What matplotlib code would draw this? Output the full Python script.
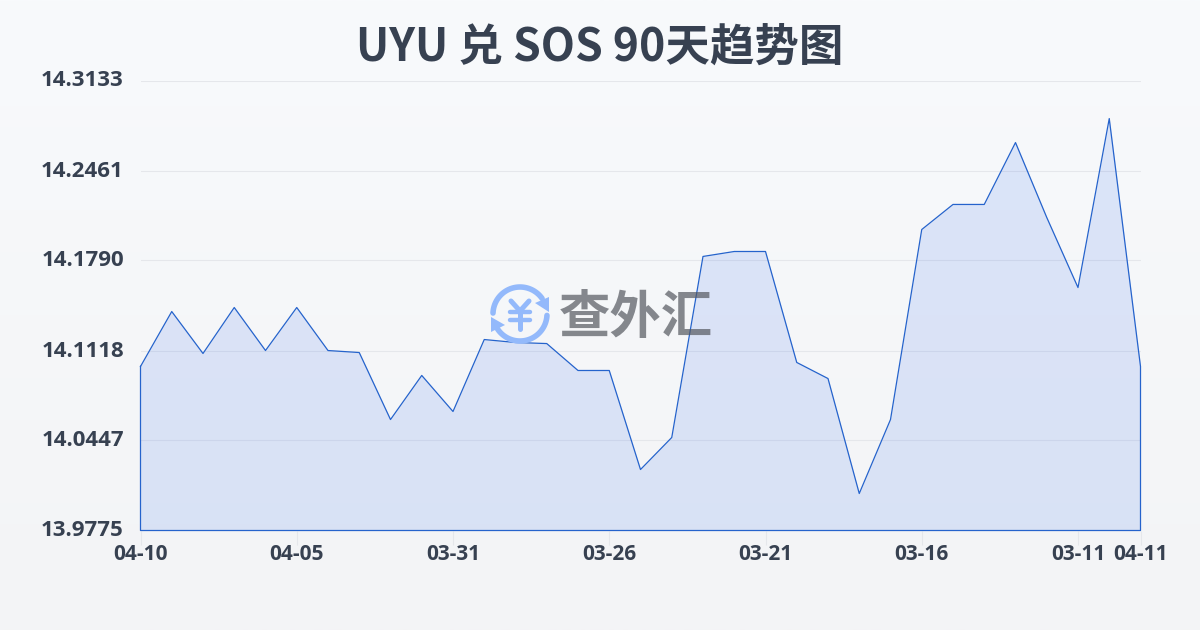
import matplotlib.pyplot as plt
from matplotlib.patches import Polygon
from matplotlib.transforms import ScaledTranslation
import numpy as np

title = "UYU 兑 SOS 90天趋势图"
values = [14.0999, 14.1409, 14.1096, 14.1439, 14.1118, 14.1439, 14.1118, 14.1103,
          14.0603, 14.0932, 14.0663, 14.1200, 14.1178, 14.1170, 14.0969, 14.0969,
          14.0230, 14.0469, 14.1820, 14.1857, 14.1857, 14.1029, 14.0909, 14.0051,
          14.0603, 14.2021, 14.2208, 14.2208, 14.2670, 14.2111, 14.1588, 14.2849,
          14.0999]
y_ticks = [13.9775, 14.0447, 14.1118, 14.1790, 14.2461, 14.3133]
y_labels = ["13.9775", "14.0447", "14.1118", "14.1790", "14.2461", "14.3133"]
x_ticks = [0, 5, 10, 15, 20, 25, 30, 32]
x_labels = ["04-10", "04-05", "03-31", "03-26", "03-21", "03-16", "03-11", "04-11"]

LABEL = "#374151"
LINE = "#2563cc"
ICON = "#93b9fb"

plt.rcParams['font.family'] = ['Noto Sans CJK SC', 'DejaVu Sans']

fig = plt.figure(figsize=(12, 6.3), dpi=100)

# page background, slight vertical gradient
bg = fig.add_axes([0, 0, 1, 1], zorder=0)
grad = np.linspace(0, 1, 256).reshape(-1, 1, 1)
top = np.array([248, 250, 252]) / 255
bottom = np.array([243, 244, 246]) / 255
bg.imshow(top + (bottom - top) * grad, aspect='auto', extent=[0, 1, 0, 1])
bg.axis('off')

ax = fig.add_axes([140.5 / 1200, 99.5 / 630, 1000 / 1200, 450 / 630], zorder=1)
ax.patch.set_alpha(0)
x = np.arange(len(values))
ax.fill_between(x, values, y_ticks[0], color="#2563eb", alpha=0.13, lw=0, zorder=2)
ax.plot(np.r_[x, x[-1], x[0], x[0]], np.r_[values, y_ticks[0], y_ticks[0], values[0]],
        color=LINE, lw=0.9, zorder=3, clip_on=False)
ax.set_xlim(0, 32)
ax.set_ylim(y_ticks[0], y_ticks[-1])
ax.grid(axis='y', color="#e5e7eb", lw=0.8)
ax.set_axisbelow(True)
for s in ax.spines.values():
    s.set_visible(False)

ax.set_xticks(x_ticks)
ax.set_xticklabels(x_labels, fontfamily=['Open Sans', 'DejaVu Sans'], fontweight='bold',
                   fontsize=15, color=LABEL)
ax.set_yticks(y_ticks)
ax.set_yticklabels(y_labels, fontfamily=['Open Sans', 'DejaVu Sans'], fontweight='bold',
                   fontsize=16, color=LABEL)
ax.tick_params(axis='x', length=10, width=0.8, color="#e5e7eb", pad=0)
ax.tick_params(axis='y', length=0, pad=12)

# y labels sit a little above their grid lines
up = ScaledTranslation(0, 2 / 100, fig.dpi_scale_trans)
for lab in ax.get_yticklabels():
    lab.set_transform(lab.get_transform() + up)

# overlay in pixel coordinates for title and logo
ov = fig.add_axes([0, 0, 1, 1], zorder=2)
ov.set_xlim(0, 1200)
ov.set_ylim(630, 0)
ov.axis('off')
ov.text(600, 48, title, ha='center', va='center', fontsize=32, fontweight='bold', color=LABEL)

cx, cy, r = 520, 314, 27
a_top = np.radians(np.linspace(178, 35, 50))
a_bot = np.radians(np.linspace(-3, -150, 50))
ov.plot(cx + r * np.cos(a_top), cy - r * np.sin(a_top), color=ICON, lw=4, solid_capstyle='round')
ov.plot(cx + r * np.cos(a_bot), cy - r * np.sin(a_bot), color=ICON, lw=4, solid_capstyle='round')
ov.add_patch(Polygon([(535, 303), (549, 297), (549, 312)], closed=True, color=ICON, lw=0))
ov.add_patch(Polygon([(491, 317), (505, 325), (491, 332)], closed=True, color=ICON, lw=0))
# yen sign
ov.plot([511, 520, 529], [301, 311, 301], color=ICON, lw=3.6, solid_capstyle='round')
ov.plot([520, 520], [311, 329], color=ICON, lw=3.6, solid_capstyle='round')
ov.plot([510, 530], [312, 312], color=ICON, lw=3.2, solid_capstyle='round')
ov.plot([510, 530], [320, 320], color=ICON, lw=3.2, solid_capstyle='round')
ov.text(636, 318, "查外汇", ha='center', va='center', fontsize=37, fontweight='bold',
        color="#55585f", alpha=0.7)

fig.savefig("out.png", dpi=100)
